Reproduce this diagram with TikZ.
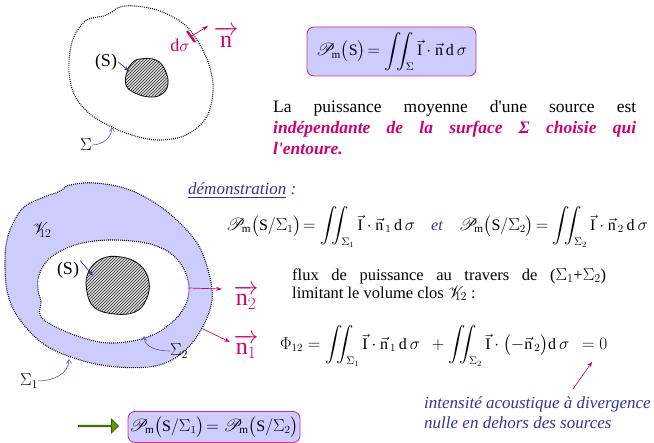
\documentclass[tikz,border=0pt]{standalone}
\usepackage{amsmath}
\usepackage{mathrsfs}
\usepackage{fontspec}
\setmainfont{Liberation Serif}
\usetikzlibrary{patterns,shapes.arrows,arrows.meta}
\definecolor{lav}{HTML}{CCCCFF}
\definecolor{mag}{HTML}{CC0077}
\definecolor{boxb}{HTML}{CC3388}
\definecolor{navy}{HTML}{333399}
\definecolor{lblue}{HTML}{5555BB}
\definecolor{olive}{HTML}{669900}
\definecolor{dgreen}{HTML}{2F5F00}
\newcommand{\rmx}[1]{\textrm{#1}}
\newcommand{\apos}{\textquotesingle}
\tikzset{
  surf/.style={line width=1.1pt,dash pattern=on 0.9pt off 1.1pt},
  blob/.style={draw=black,line width=0.8pt,fill=gray!30,postaction={pattern=north east lines,pattern color=black!80}},
  fbox/.style={draw=boxb,line width=0.9pt,fill=lav,rounded corners=7pt,inner sep=0pt},
  sarrow/.style={draw=navy,line width=0.7pt,-{Stealth[length=5pt,width=4pt]}},
  carrow/.style={draw=lblue,line width=0.6pt,-{Straight Barb[length=4pt,width=5pt]}},
  narrow/.style={draw=mag,line width=0.7pt,-{Stealth[length=6pt,width=4pt]}},
  body/.style={font=\fontsize{17.5}{21}\selectfont,inner sep=0pt},
  frm/.style={font=\fontsize{16}{20}\selectfont,inner sep=0pt},
  lab/.style={font=\fontsize{18}{20}\selectfont,inner sep=1pt},
}
\begin{document}
\begin{tikzpicture}[x=1pt,y=-1pt]
\useasboundingbox (0,0) rectangle (654,443);
% ---------- top diagram ----------
\draw[surf] plot[smooth cycle,tension=0.6] coordinates{(104,16)(112,12)(120,7)(135,6)(160,11)(185,25)(200,45)(210,68)(213,92)(206,118)(186,135)(160,140)(135,136)(112,127)(90,114)(75,96)(69,72)(72,42)(84,22)(97,17)};
\path[blob] plot[smooth cycle,tension=0.7] coordinates{(140,59)(156,60)(165,70)(168,84)(162,94)(150,97)(135,93)(126,85)(127,72)(132,63)};
\coordinate (sA) at (129,71);
\node[lab] (S1) at (106,62) {(S)};
\draw[sarrow] (S1.east) -- (sA);
\coordinate (dsa) at (187,31);
\coordinate (dsb) at (195,42);
\draw[mag,line width=2.4pt] (dsa) -- (dsb);
\coordinate (nt) at (191,36.5);
\coordinate (nh) at (208,26);
\draw[narrow] (nt) -- (nh);
\node[text=mag,lab,inner sep=0pt] (ds) at (180,45) {d$\sigma$};
\node[text=mag,font=\fontsize{24}{26}\selectfont,inner sep=0pt] (nv) at (226,37) {$\overrightarrow{\rmx{n}}$};
\node[lab,inner sep=0pt] (Sig) at (86,145) {$\Sigma$};
\coordinate (sigt) at (112,127);
\draw[carrow] (Sig.east) to[out=0,in=-90] (sigt);
% ---------- box 1 ----------
\node[fbox,minimum width=169pt,minimum height=49pt] (box1) at (391.5,51.5) {};
\node[frm] (f1) at (box1.center) {$\mathscr{P}_{\!\rmx{m}}\bigl(\rmx{S}\bigr)\!=\displaystyle\iint_{\Sigma}\vec{\rmx{I}}\cdot\vec{\rmx{n}}\,\rmx{d}\,\sigma$};
% ---------- paragraph ----------
\node[body,anchor=north west,text width=363pt,align=justify] (par) at (273,100)
{La puissance moyenne d\apos une source est\linebreak {\color{mag}\bfseries\itshape indépendante de la surface Σ choisie qui\linebreak l\apos entoure.}};
% ---------- lower diagram ----------
\draw[surf,fill=lav] plot[smooth cycle,tension=0.6] coordinates{(5,265)(8,236)(22,209)(44,197)(56,193)(62,190)(70,185)(95,183)(130,190)(165,210)(195,240)(208,270)(212,300)(201,330)(181,354)(155,366)(117,367)(80,360)(45,345)(20,320)(8,295)};
\draw[surf,fill=white] plot[smooth cycle,tension=0.6] coordinates{(40,315)(41,302)(38,290)(39,275)(50,258)(75,245)(110,240)(150,244)(175,257)(188,280)(186,304)(170,324)(145,338)(110,343)(80,337)(52,325)};
\path[blob] plot[smooth cycle,tension=0.7] coordinates{(101,259)(121,257)(140,265)(149,282)(146,300)(135,312)(115,314)(95,308)(87,292)(88,273)};
\coordinate (sB) at (93,276);
\node[lab] (S2) at (68,270) {(S)};
\draw[sarrow] (S2.north east) -- (sB);
\node[lab,inner sep=0pt] (V12) at (42,230) {$\mathscr{V}_{\!\!12}$};
% n2, n1
\coordinate (n2t) at (188,288);
\coordinate (n2h) at (222,289);
\draw[narrow] (n2t) -- (n2h);
\node[text=mag,font=\fontsize{24}{26}\selectfont,inner sep=0pt] (n2) at (246,297) {$\overrightarrow{\rmx{n}_2}$};
\coordinate (n1t) at (203,329);
\coordinate (n1h) at (230,342);
\draw[narrow] (n1t) -- (n1h);
\node[text=mag,font=\fontsize{24}{26}\selectfont,inner sep=0pt] (n1) at (246,346) {$\overrightarrow{\rmx{n}_1}$};
\node[lab,inner sep=0pt] (Sig2) at (179,351) {$\Sigma_2$};
\coordinate (s2t) at (144,336);
\draw[carrow] (Sig2.west) to[out=180,in=-90] (s2t);
\node[lab,inner sep=0pt] (Sig1) at (29,381) {$\Sigma_1$};
\coordinate (s1t) at (69,359);
\draw[carrow] (Sig1.east) to[out=0,in=-90] (s1t);
% ---------- demonstration ----------
\node[inner sep=0pt,anchor=base west,text=navy,font=\itshape\fontsize{17}{20}\selectfont] (demo) at (188,195) {\underline{démonstration} :};
\node[frm] (f2) at (437,227) {$\mathscr{P}_{\!\rmx{m}}\bigl(\rmx{S}/\Sigma_1\bigr)\!=\displaystyle\iint_{\Sigma_1}\vec{\rmx{I}}\cdot\vec{\rmx{n}}_{\,1}\,\rmx{d}\,\sigma$\quad{\color{navy}\itshape et}\quad$\mathscr{P}_{\!\rmx{m}}\bigl(\rmx{S}/\Sigma_2\bigr)\!=\displaystyle\iint_{\Sigma_2}\vec{\rmx{I}}\cdot\vec{\rmx{n}}_{\,2}\,\rmx{d}\,\sigma$};
% ---------- flux ----------
\node[inner sep=0pt,font=\fontsize{16.5}{18}\selectfont,anchor=north west,text width=314pt,align=justify] (flux) at (292,268)
{flux de puissance au travers de ($\Sigma_1$+$\Sigma_2$)\linebreak limitant le volume clos $\mathscr{V}_{\!\!12}$ :};
\node[frm,anchor=west] (f3) at (280,346) {$\Phi_{12}=\displaystyle\iint_{\Sigma_1}\vec{\rmx{I}}\cdot\vec{\rmx{n}}_{\,1}\,\rmx{d}\,\sigma\ \ +\iint_{\Sigma_2}\vec{\rmx{I}}\cdot\bigl(-\vec{\rmx{n}}_{\,2}\bigr)\rmx{d}\,\sigma\ \ =0$};
% ---------- note ----------
\node[inner sep=0pt,anchor=north west,text=navy,font=\itshape\fontsize{17}{20}\selectfont,align=left] (note) at (424,396) {intensité acoustique à divergence\\nulle en dehors des sources};
\coordinate (at) at (573,389);
\coordinate (ah) at (592,362);
\draw[draw=mag,line width=0.6pt,-{Stealth[length=5pt,width=4pt]}] (at) -- (ah);
% ---------- conclusion ----------
\node[single arrow,draw=dgreen,fill=olive,line width=0.8pt,minimum height=40pt,minimum width=14pt,single arrow head extend=3pt,inner sep=0pt] (garr) at (98,426) {};
\node[fbox,minimum width=172pt,minimum height=31pt] (box2) at (214,427) {};
\node[frm] (f4) at (box2.center) {$\mathscr{P}_{\!\rmx{m}}\bigl(\rmx{S}/\Sigma_1\bigr)\!=\mathscr{P}_{\!\rmx{m}}\bigl(\rmx{S}/\Sigma_2\bigr)$};
\end{tikzpicture}
\end{document}
